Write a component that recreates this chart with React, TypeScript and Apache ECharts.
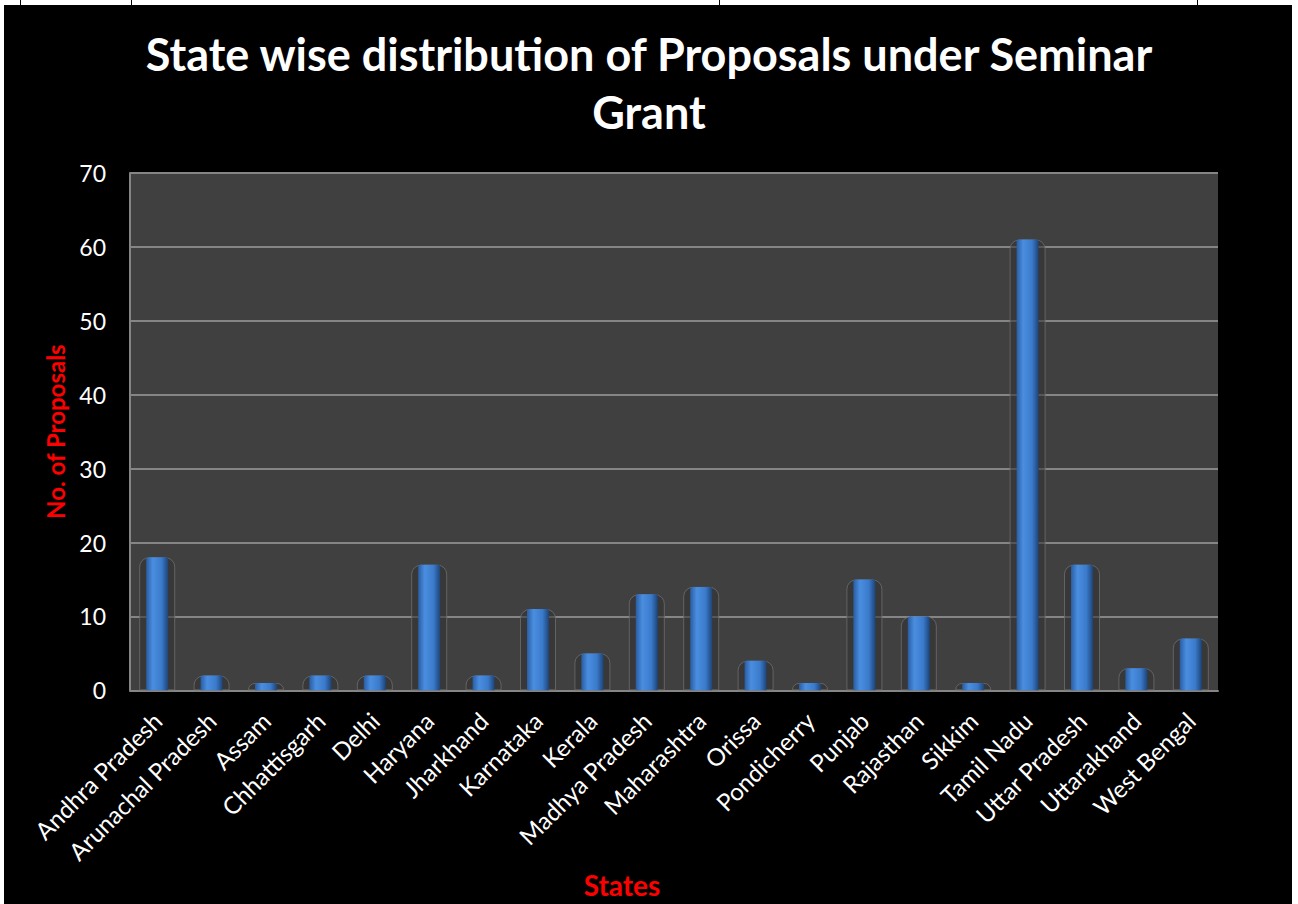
import React, { useEffect, useRef } from "react";
import * as echarts from "echarts";

const states = [
  "Andhra Pradesh", "Arunachal Pradesh", "Assam", "Chhattisgarh", "Delhi",
  "Haryana", "Jharkhand", "Karnataka", "Kerala", "Madhya Pradesh",
  "Maharashtra", "Orissa", "Pondicherry", "Punjab", "Rajasthan",
  "Sikkim", "Tamil Nadu", "Uttar Pradesh", "Uttarakhand", "West Bengal",
];
const proposals = [18, 2, 1, 2, 2, 17, 2, 11, 5, 13, 14, 4, 1, 15, 10, 1, 61, 17, 3, 7];
const yTicks = { min: 0, max: 70, interval: 10 };
const titleText = "State wise distribution of Proposals under Seminar\nGrant";
const yName = "No. of Proposals";
const xName = "States";

export default function App() {
  const ref = useRef<HTMLDivElement>(null);
  useEffect(() => {
    if (!ref.current) return;
    const chart = echarts.init(ref.current, null, { renderer: "svg" });
    const font = "Lato, 'Open Sans', sans-serif";
    chart.setOption({
      animation: false,
      backgroundColor: "transparent",
      title: {
        text: titleText,
        left: "center",
        top: 20,
        textStyle: {
          color: "#ffffff",
          fontSize: 45,
          fontWeight: "bold",
          fontFamily: font,
          lineHeight: 58,
        },
      },
      grid: {
        left: 130,
        right: 80,
        top: 173,
        bottom: 211,
        show: true,
        backgroundColor: "#404040",
        borderWidth: 0,
      },
      xAxis: [
        {
          type: "category",
          data: states,
          name: xName,
          nameLocation: "middle",
          nameGap: 172,
          nameTextStyle: {
            color: "#ff0000",
            fontSize: 28,
            fontWeight: "bold",
            fontFamily: font,
            padding: [0, 104, 0, 0],
          },
          axisLine: { show: true, lineStyle: { color: "#858585", width: 2 } },
          axisTick: { show: false },
          axisLabel: {
            color: "#ffffff",
            fontSize: 24,
            fontFamily: font,
            rotate: 45,
            margin: 26,
            interval: 0,
          },
        },
        {
          type: "category",
          data: states,
          show: false,
          position: "bottom",
        },
      ],
      yAxis: {
        type: "value",
        min: yTicks.min,
        max: yTicks.max,
        interval: yTicks.interval,
        name: yName,
        nameLocation: "middle",
        nameGap: 63,
        nameTextStyle: { color: "#ff0000", fontSize: 24, fontWeight: "bold", fontFamily: font },
        axisLine: { show: true, lineStyle: { color: "#858585", width: 2 } },
        axisTick: { show: false },
        axisLabel: { color: "#ffffff", fontSize: 23, fontFamily: font, margin: 24 },
        splitLine: { show: true, lineStyle: { color: "#858585", width: 2 } },
      },
      series: [
        {
          type: "bar",
          xAxisIndex: 1,
          data: proposals,
          barWidth: 36,
          silent: true,
          z: 1,
          itemStyle: {
            color: "rgba(50,50,50,0.55)",
            borderColor: "rgba(110,110,110,0.8)",
            borderWidth: 1,
            borderRadius: [9, 9, 0, 0],
          },
        },
        {
          type: "bar",
          xAxisIndex: 0,
          data: proposals,
          barWidth: 22,
          z: 3,
          itemStyle: {
            color: new echarts.graphic.LinearGradient(0, 0, 1, 0, [
              { offset: 0, color: "#2a5da3" },
              { offset: 0.3, color: "#4a8ee0" },
              { offset: 0.7, color: "#3b7acb" },
              { offset: 1, color: "#1d4478" },
            ]),
            borderRadius: [2, 2, 0, 0],
          },
        },
      ],
    });
    return () => chart.dispose();
  }, []);

  const lineXs = [20, 131, 719, 1197];
  return (
    <div style={{ position: "fixed", left: 0, top: 0, width: 1298, height: 904, background: "#ffffff" }}>
      <div style={{ position: "absolute", left: 4, top: 5, width: 1288, height: 899, background: "#000000" }} />
      {lineXs.map((x) => (
        <div key={x} style={{ position: "absolute", left: x, top: 0, width: 1, height: 5, background: "#000000" }} />
      ))}
      <div ref={ref} style={{ position: "absolute", left: 0, top: 0, width: 1298, height: 904 }} />
    </div>
  );
}
